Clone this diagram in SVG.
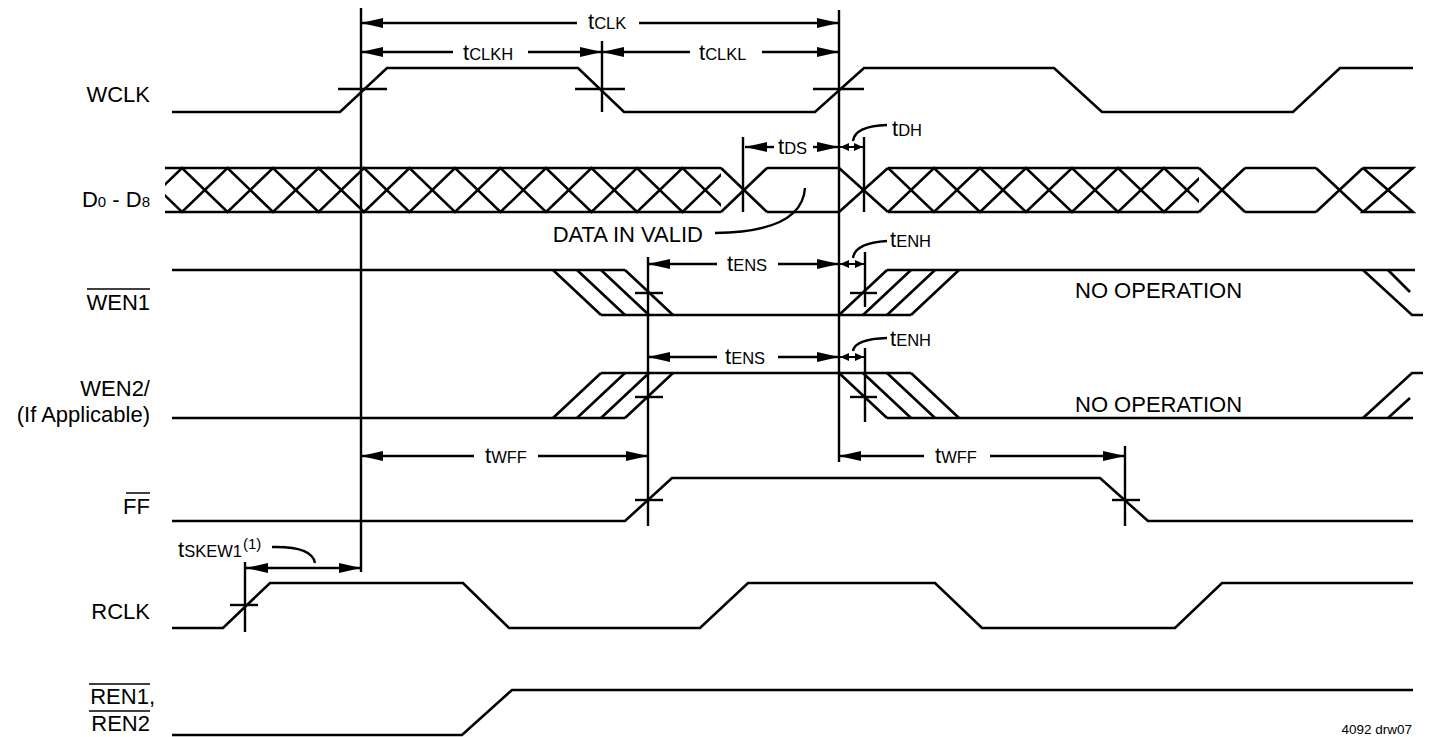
<svg xmlns="http://www.w3.org/2000/svg" width="1433" height="737" viewBox="0 0 1433 737">
<style>
.w{fill:none;stroke:#000;stroke-width:2.6;stroke-linejoin:miter}
.v{fill:none;stroke:#000;stroke-width:2.4}
.a{fill:none;stroke:#000;stroke-width:2.4;marker-end:url(#ah)}
.s{fill:none;stroke:#000;stroke-width:2;marker-start:url(#sh);marker-end:url(#sh)}
.l{fill:none;stroke:#000;stroke-width:2.4}
text{font-family:"Liberation Sans",Arial,sans-serif;fill:#000}
.lab{font-size:22px;text-anchor:end}
.big{font-size:22px}
.sub{font-size:16.5px}
</style>
<defs>
<marker id="ah" markerUnits="userSpaceOnUse" orient="auto" refX="0" refY="0" markerWidth="24" markerHeight="12" viewBox="-24 -6 24 12" overflow="visible">
<path d="M0,0 L-22,-5 L-22,5 z" fill="#000"/>
</marker>
<marker id="sh" markerUnits="userSpaceOnUse" orient="auto-start-reverse" refX="0" refY="0" markerWidth="10" markerHeight="10" viewBox="-10 -5 10 10" overflow="visible">
<path d="M0,0 L-9,-4 L-9,4 z" fill="#000"/>
</marker>
<clipPath id="cl"><rect x="165" y="150" width="556" height="80"/></clipPath>
<clipPath id="cr"><rect x="888" y="150" width="311" height="80"/></clipPath>
</defs>

<g id="labels">
<text class="lab" x="150" y="102">WCLK</text>
<text class="lab" x="150" y="207"><tspan font-size="22">D</tspan><tspan font-size="15">0</tspan><tspan font-size="22"> - D</tspan><tspan font-size="15">8</tspan></text>
<text class="lab" x="150" y="310">WEN1</text>
<line x1="87" y1="289" x2="150" y2="289" stroke="#000" stroke-width="1.5"/>
<text class="lab" x="150" y="396">WEN2/</text>
<text class="lab" x="150" y="422">(If Applicable)</text>
<text class="lab" x="150" y="514">FF</text>
<line x1="126" y1="493" x2="150" y2="493" stroke="#000" stroke-width="1.5"/>
<text class="lab" x="150" y="619">RCLK</text>
<text class="lab" x="155" y="704">REN1,</text>
<line x1="89" y1="684" x2="150" y2="684" stroke="#000" stroke-width="1.5"/>
<text class="lab" x="150" y="731">REN2</text>
<line x1="89" y1="711" x2="150" y2="711" stroke="#000" stroke-width="1.5"/>
<text x="1412" y="734" font-size="13.5" text-anchor="end">4092 drw07</text>
</g>

<g id="wclk">
<polyline class="w" points="172,112 340,112 387,68 578,68 624,112 815,112 864,68 1054,68 1102,112 1293,112 1340,68 1413,68"/>
<line class="v" x1="338" y1="89" x2="387" y2="89"/>
<line class="v" x1="575" y1="89" x2="625" y2="89"/>
<line class="v" x1="813" y1="89" x2="864" y2="89"/>
<line class="v" x1="602" y1="41" x2="602" y2="112"/>
</g>

<g id="data">
<line class="w" x1="165" y1="168" x2="721" y2="168"/>
<line class="w" x1="165" y1="212" x2="721" y2="212"/>
<g clip-path="url(#cl)">
<polyline class="w" points="136.5,212 182,168 227.5,212 273,168 318.5,212 364,168 409.5,212 455,168 500.5,212 546,168 591.5,212 637,168 682.5,212 728,168"/>
<polyline class="w" points="136.5,168 182,212 227.5,168 273,212 318.5,168 364,212 409.5,168 455,212 500.5,168 546,212 591.5,168 637,212 682.5,168 728,212"/>
</g>
<line class="w" x1="721" y1="168" x2="767" y2="212"/>
<line class="w" x1="721" y1="212" x2="767" y2="168"/>
<line class="w" x1="767" y1="168" x2="839" y2="168"/>
<line class="w" x1="767" y1="212" x2="839" y2="212"/>
<line class="w" x1="839" y1="168" x2="888" y2="212"/>
<line class="w" x1="839" y1="212" x2="888" y2="168"/>
<line class="w" x1="888" y1="168" x2="1199" y2="168"/>
<line class="w" x1="888" y1="212" x2="1199" y2="212"/>
<g clip-path="url(#cr)">
<polyline class="w" points="888,168 934,212 980,168 1026,212 1072,168 1118,212 1164,168 1210,212"/>
<polyline class="w" points="888,212 934,168 980,212 1026,168 1072,212 1118,168 1164,212 1210,168"/>
</g>
<line class="w" x1="1199" y1="168" x2="1245" y2="212"/>
<line class="w" x1="1199" y1="212" x2="1245" y2="168"/>
<line class="w" x1="1245" y1="168" x2="1316" y2="168"/>
<line class="w" x1="1245" y1="212" x2="1316" y2="212"/>
<line class="w" x1="1316" y1="168" x2="1363" y2="212"/>
<line class="w" x1="1316" y1="212" x2="1363" y2="168"/>
<polyline class="w" points="1363,168 1413,168 1363,212 1413,212 1363,168"/>
<line class="v" x1="743" y1="137" x2="743" y2="212"/>
<line class="v" x1="864" y1="137" x2="864" y2="212"/>
<text class="big" x="703" y="242" text-anchor="end">DATA IN VALID</text>
</g>

<g id="wen1">
<polyline class="w" points="172,270 625,270"/>
<polyline class="w" points="601,315 911,315"/>
<line class="w" x1="553" y1="270" x2="601" y2="315"/>
<line class="w" x1="577" y1="270" x2="625" y2="315"/>
<line class="w" x1="601" y1="270" x2="649" y2="315"/>
<line class="w" x1="625" y1="270" x2="673" y2="315"/>
<line class="w" x1="839" y1="315" x2="887" y2="270"/>
<line class="w" x1="863" y1="315" x2="911" y2="270"/>
<line class="w" x1="887" y1="315" x2="935" y2="270"/>
<line class="w" x1="911" y1="315" x2="959" y2="270"/>
<line class="w" x1="887" y1="270" x2="1415" y2="270"/>
<polyline class="w" points="1363,270 1412,315 1423,315"/>
<line class="w" x1="1388" y1="270" x2="1410" y2="292"/>
<line class="v" x1="635" y1="293" x2="663" y2="293"/>
<line class="v" x1="850" y1="293" x2="877" y2="293"/>
<line class="v" x1="865" y1="252" x2="865" y2="307"/>
<text class="big" x="1075" y="298" text-anchor="start">NO OPERATION</text>
</g>

<g id="wen2">
<polyline class="w" points="172,418 625,418"/>
<polyline class="w" points="601,373 911,373"/>
<line class="w" x1="553" y1="418" x2="601" y2="373"/>
<line class="w" x1="577" y1="418" x2="625" y2="373"/>
<line class="w" x1="601" y1="418" x2="649" y2="373"/>
<line class="w" x1="625" y1="418" x2="673" y2="373"/>
<line class="w" x1="839" y1="373" x2="887" y2="418"/>
<line class="w" x1="863" y1="373" x2="911" y2="418"/>
<line class="w" x1="887" y1="373" x2="935" y2="418"/>
<line class="w" x1="911" y1="373" x2="959" y2="418"/>
<line class="w" x1="887" y1="418" x2="1413" y2="418"/>
<polyline class="w" points="1363,418 1412,373 1423,373"/>
<line class="w" x1="1388" y1="418" x2="1410" y2="398"/>
<line class="v" x1="635" y1="397" x2="663" y2="397"/>
<line class="v" x1="850" y1="397" x2="877" y2="397"/>
<line class="v" x1="865" y1="348" x2="865" y2="422"/>
<text class="big" x="1075" y="412" text-anchor="start">NO OPERATION</text>
</g>

<g id="ff">
<polyline class="w" points="172,521 625,521 672,478 1100,478 1148,521 1413,521"/>
<line class="v" x1="635" y1="500" x2="663" y2="500"/>
<line class="v" x1="1112" y1="500" x2="1140" y2="500"/>
<line class="v" x1="1125" y1="446" x2="1125" y2="526"/>
</g>

<g id="rclk">
<polyline class="w" points="172,628 223,628 270,583 463,583 509,628 700,628 748,583 935,583 982,628 1175,628 1222,583 1413,583"/>
<line class="v" x1="230" y1="605" x2="258" y2="605"/>
<line class="v" x1="245" y1="562" x2="245" y2="632"/>
</g>

<g id="ren">
<polyline class="w" points="172,735 462,735 512,690 1413,690"/>
</g>

<g id="connectors">
<line class="v" x1="361" y1="8" x2="361" y2="572"/>
<line class="v" x1="839" y1="10" x2="839" y2="462"/>
<line class="v" x1="648" y1="257" x2="648" y2="526"/>
<line class="a" x1="577" y1="23" x2="361" y2="23"/>
<line class="a" x1="639" y1="23" x2="839" y2="23"/>
<text x="588" y="29"><tspan class="big">t</tspan><tspan class="sub">CLK</tspan></text>
<line class="a" x1="453" y1="52" x2="361" y2="52"/>
<line class="a" x1="528" y1="52" x2="602" y2="52"/>
<text x="463" y="60"><tspan class="big">t</tspan><tspan class="sub">CLKH</tspan></text>
<line class="a" x1="690" y1="52" x2="602" y2="52"/>
<line class="a" x1="762" y1="52" x2="839" y2="52"/>
<text x="699" y="60"><tspan class="big">t</tspan><tspan class="sub">CLKL</tspan></text>
<line class="a" x1="774" y1="147" x2="745" y2="147"/>
<line class="a" x1="813" y1="147" x2="839" y2="147"/>
<text x="778" y="154"><tspan class="big">t</tspan><tspan class="sub">DS</tspan></text>
<line class="s" x1="840" y1="147" x2="863" y2="147"/>
<path class="l" d="M853,141 Q855,126 887,125"/>
<text x="892" y="136"><tspan class="big">t</tspan><tspan class="sub">DH</tspan></text>
<path class="l" d="M715,233 Q802,232 805,188"/>
<line class="a" x1="717" y1="264" x2="648" y2="264"/>
<line class="a" x1="778" y1="264" x2="839" y2="264"/>
<text x="727" y="271"><tspan class="big">t</tspan><tspan class="sub">ENS</tspan></text>
<line class="s" x1="840" y1="264" x2="864" y2="264"/>
<path class="l" d="M853,258 Q855,243 887,241"/>
<text x="890" y="247"><tspan class="big">t</tspan><tspan class="sub">ENH</tspan></text>
<line class="a" x1="717" y1="357" x2="648" y2="357"/>
<line class="a" x1="778" y1="357" x2="839" y2="357"/>
<text x="725" y="364"><tspan class="big">t</tspan><tspan class="sub">ENS</tspan></text>
<line class="s" x1="840" y1="357" x2="864" y2="357"/>
<path class="l" d="M853,351 Q855,339 887,338"/>
<text x="890" y="346"><tspan class="big">t</tspan><tspan class="sub">ENH</tspan></text>
<line class="a" x1="474" y1="456" x2="361" y2="456"/>
<line class="a" x1="538" y1="456" x2="648" y2="456"/>
<text x="485" y="463"><tspan class="big">t</tspan><tspan class="sub">WFF</tspan></text>
<line class="a" x1="924" y1="456" x2="839" y2="456"/>
<line class="a" x1="990" y1="456" x2="1125" y2="456"/>
<text x="935" y="463"><tspan class="big">t</tspan><tspan class="sub">WFF</tspan></text>
<line class="a" x1="300" y1="568" x2="246" y2="568"/>
<line class="a" x1="300" y1="568" x2="361" y2="568"/>
<path class="l" d="M272,547 Q312,546 315,563"/>
<text x="178" y="557"><tspan class="big">t</tspan><tspan class="sub">SKEW1</tspan></text>
<text x="243" y="549" font-size="15">(1)</text>
</g>
</svg>
